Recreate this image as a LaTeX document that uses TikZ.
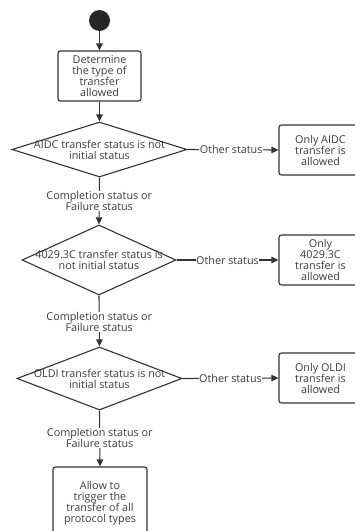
\documentclass[tikz,border=0pt]{standalone}
\usepackage{fontspec}
\setmainfont{Open Sans}
\usetikzlibrary{shapes.geometric,arrows.meta}
\definecolor{ink}{HTML}{333333}
\definecolor{txt}{HTML}{3C3C3C}
\tikzset{
  flow/.style={draw=ink, line width=1.1pt},
  box/.style={flow, rounded corners=2.5pt, fill=white, inner sep=0pt},
  dia/.style={flow, shape=diamond, inner sep=0pt, fill=white},
  lbl/.style={text=txt, font=\fontsize{10.8}{11}\selectfont, align=center, inner sep=0.5pt},
  edgelbl/.style={lbl, fill=white},
  conn/.style={draw=ink, line width=1.1pt, -{Triangle[length=7pt,width=6.5pt]}},
  plain/.style={draw=ink, line width=1.1pt}
}
\begin{document}
\begin{tikzpicture}[x=1pt,y=-1pt]
  \useasboundingbox (0,0) rectangle (355,531);
  \clip (0,0) rectangle (355,531);

  % start point
  \node[circle, fill=black!85, minimum size=21pt, inner sep=0pt] (start) at (99.5,20.5) {};

  % main column
  \node[box, minimum width=83pt, minimum height=50pt] (det) at (99.5,76) {};
  \node[lbl] (dett) at (det) {Determine\\the type of\\transfer\\allowed};

  \node[dia, minimum width=175pt, minimum height=55pt] (d1) at (99.5,149.5) {};
  \node[lbl] (d1t) at (d1) {AIDC transfer status is not\\initial status};

  \node[dia, minimum width=154pt, minimum height=70pt] (d2) at (99,260) {};
  \node[lbl] (d2t) at (d2) {4029.3C transfer status is\\not initial status};

  \node[dia, minimum width=165pt, minimum height=63pt] (d3) at (99.5,378.5) {};
  \node[lbl] (d3t) at (d3) {OLDI transfer status is not\\initial status};

  \node[box, minimum width=94pt, minimum height=72pt] (all) at (100,503) {};
  \node[lbl] (allt) at (all) {Allow to\\trigger the\\transfer of all\\protocol types};

  % side results
  \node[box, minimum width=83pt, minimum height=50pt] (r1) at (320.5,150) {};
  \node[lbl] (r1t) at (r1) {Only AIDC\\transfer is\\allowed};
  \node[box, minimum width=83pt, minimum height=50pt] (r2) at (320.5,260) {};
  \node[lbl] (r2t) at (r2) {Only\\4029.3C\\transfer is\\allowed};
  \node[box, minimum width=83pt, minimum height=50pt] (r3) at (320.5,378) {};
  \node[lbl] (r3t) at (r3) {Only OLDI\\transfer is\\allowed};

  % vertical flow
  \draw[conn] (start) -- (det);
  \draw[conn] (det) -- (d1);
  \draw[conn] (d1.south) -- (d2.north)
    node[edgelbl, pos=0.5] (e1) {Completion status or\\Failure status};
  \draw[conn] (d2.south) -- (d3.north)
    node[edgelbl, pos=0.52] (e2) {Completion status or\\Failure status};
  \draw[conn] (d3.south) -- (all.north)
    node[edgelbl, pos=0.49] (e3) {Completion status or\\Failure status};

  % horizontal branches
  \draw[conn] (d1.east) -- (r1.west)
    node[edgelbl, pos=0.48] (o1) {Other status};
  \draw[conn] (d2.east) -- (r2.west)
    node[edgelbl, pos=0.5] (o2) {Other status};
  \draw[conn] (d3.east) -- (r3.west)
    node[edgelbl, pos=0.5] (o3) {Other status};
\end{tikzpicture}
\end{document}
